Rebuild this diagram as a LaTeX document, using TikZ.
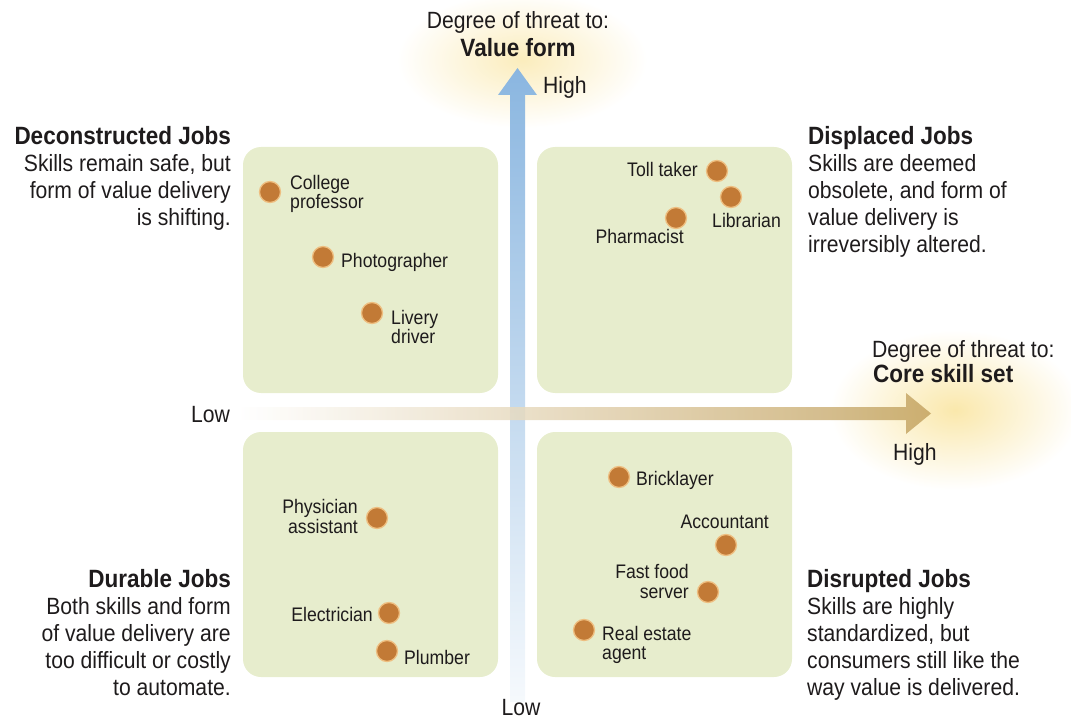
\documentclass[tikz,border=0pt]{standalone}
\usepackage{fontspec}
\setmainfont{Liberation Sans}[FakeStretch=0.9]
\usetikzlibrary{calc}

\definecolor{ink}{RGB}{30,27,28}
\definecolor{boxfill}{RGB}{231,237,205}
\definecolor{dotfill}{RGB}{194,122,54}
\definecolor{dotring}{RGB}{238,190,128}
\definecolor{axisblue}{RGB}{138,182,224}
\definecolor{axistan}{RGB}{196,164,98}
\definecolor{glow}{RGB}{250,232,172}

\tikzset{
  quad/.style={fill=boxfill, rounded corners=18pt},
  job/.style={circle, fill=dotfill, draw=dotring, line width=1.3pt,
    minimum size=21pt, inner sep=0pt},
  joblabel/.style={font=\fontsize{19.6}{19}\selectfont, text=ink, inner sep=0pt},
  body/.style={font=\fontsize{23.5}{27}\selectfont, text=ink, inner sep=0pt},
  heading/.style={font=\fontsize{25}{27}\selectfont\bfseries, text=ink, inner sep=0pt},
}

\begin{document}
\begin{tikzpicture}[x=1pt, y=-1pt]
\useasboundingbox (0,0) rectangle (1071,719);

% soft glows behind the axis titles
\shade[inner color=glow!80, outer color=white] (522,60) ellipse [x radius=125, y radius=68];
\shade[inner color=glow, outer color=white] (955,410) ellipse [x radius=125, y radius=80];

% quadrant panels
\fill[quad] (243,147) rectangle (498,393);
\fill[quad] (537,147) rectangle (792,393);
\fill[quad] (243,432) rectangle (498,677);
\fill[quad] (537,432) rectangle (792,677);

% vertical axis: threat to value form
\coordinate (vlow) at (517.5,702);
\coordinate (vtip) at (517.5,68);
\shade[top color=axisblue, middle color=axisblue!72, bottom color=axisblue!8]
  ($(vlow)+(-7.5,0)$) -- (510,95) -- (498,95) -- (vtip) -- (537,95) -- (525,95)
  -- ($(vlow)+(7.5,0)$) -- cycle;

% horizontal axis: threat to core skill set
\coordinate (hlow) at (238,413.5);
\coordinate (htip) at (931,413.5);
\shade[left color=white, right color=axistan, fill opacity=0.85]
  ($(hlow)+(0,-6.5)$) -- (906,407) -- (906,393) -- (htip) -- (906,434) -- (906,420)
  -- ($(hlow)+(0,6.5)$) -- cycle;

% axis captions
\node[body, anchor=base] (vcap) at (518,29) {Degree of threat to:};
\node[heading, anchor=base] (vname) at (518,57) {Value form};
\node[body, anchor=base west] (vhigh) at (543,94) {High};
\node[body, anchor=base] (vlowlbl) at (521,715) {Low};
\node[body, anchor=base west] (hcap) at (872,357) {Degree of threat to:};
\node[heading, anchor=base west] (hname) at (873,382) {Core skill set};
\node[body, anchor=base west] (hhigh) at (893,460) {High};
\node[body, anchor=base east] (hlowlbl) at (230,422) {Low};

% quadrant descriptions
\node[heading, anchor=base east] (dcT) at (231,145) {Deconstructed Jobs};
\foreach \t [count=\i] in {{Skills remain safe, but},{form of value delivery},{is shifting.}}
  \node[body, anchor=base east] (dc\i) at (231,145+27*\i) {\t};

\node[heading, anchor=base west] (dpT) at (808,145) {Displaced Jobs};
\foreach \t [count=\i] in {{Skills are deemed},{obsolete, and form of},{value delivery is},{irreversibly altered.}}
  \node[body, anchor=base west] (dp\i) at (808,145+27*\i) {\t};

\node[heading, anchor=base east] (duT) at (231,587) {Durable Jobs};
\foreach \t [count=\i] in {{Both skills and form},{of value delivery are},{too difficult or costly},{to automate.}}
  \node[body, anchor=base east] (du\i) at (231,587+27*\i) {\t};

\node[heading, anchor=base west] (drT) at (807,587) {Disrupted Jobs};
\foreach \t [count=\i] in {{Skills are highly},{standardized, but},{consumers still like the},{way value is delivered.}}
  \node[body, anchor=base west] (dr\i) at (807,587+27*\i) {\t};

% jobs: deconstructed
\node[job] (prof) at (270,192) {};
\node[joblabel, anchor=base west] (prof1) at (290,190) {College};
\node[joblabel, anchor=base west] (prof2) at (290,209) {professor};
\node[job] (photo) at (323,257) {};
\node[joblabel, anchor=base west] (photo1) at (341,268) {Photographer};
\node[job] (livery) at (372,313) {};
\node[joblabel, anchor=base west] (livery1) at (391,325) {Livery};
\node[joblabel, anchor=base west] (livery2) at (391,344) {driver};

% jobs: displaced
\node[job] (toll) at (717,171) {};
\node[joblabel, anchor=base east] (toll1) at (698,177) {Toll taker};
\node[job] (libr) at (731,197) {};
\node[joblabel, anchor=base west] (libr1) at (712,228) {Librarian};
\node[job] (pharm) at (676,218) {};
\node[joblabel, anchor=base east] (pharm1) at (684,244) {Pharmacist};

% jobs: durable
\node[job] (phys) at (377,518) {};
\node[joblabel, anchor=base east] (phys1) at (358,513) {Physician};
\node[joblabel, anchor=base east] (phys2) at (358,533) {assistant};
\node[job] (elec) at (389,613) {};
\node[joblabel, anchor=base east] (elec1) at (373,621) {Electrician};
\node[job] (plumb) at (387,651) {};
\node[joblabel, anchor=base west] (plumb1) at (404,664) {Plumber};

% jobs: disrupted
\node[job] (brick) at (619,477) {};
\node[joblabel, anchor=base west] (brick1) at (636,485) {Bricklayer};
\node[job] (acct) at (726,545) {};
\node[joblabel, anchor=base east] (acct1) at (769,528) {Accountant};
\node[job] (fast) at (708,592) {};
\node[joblabel, anchor=base east] (fast1) at (689,578) {Fast food};
\node[joblabel, anchor=base east] (fast2) at (689,598) {server};
\node[job] (realty) at (584,630) {};
\node[joblabel, anchor=base west] (realty1) at (602,640) {Real estate};
\node[joblabel, anchor=base west] (realty2) at (602,659) {agent};
\end{tikzpicture}
\end{document}
